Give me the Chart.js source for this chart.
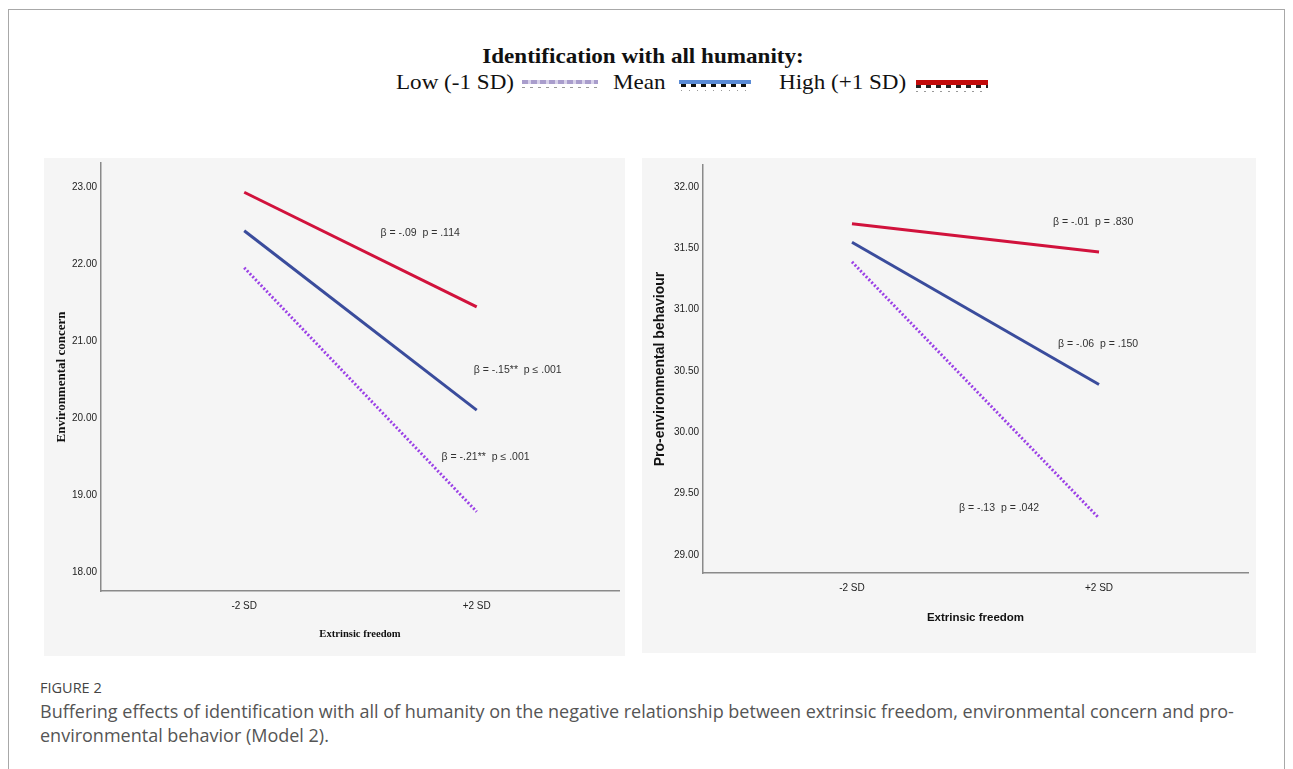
<!DOCTYPE html>
<html>
<head>
<meta charset="utf-8">
<script src="https://cdn.jsdelivr.net/npm/chart.js@4/dist/chart.umd.min.js"></script>
<style>
  html, body { margin:0; padding:0; background:#fff; }
  body { width:1293px; height:769px; position:relative; overflow:hidden; }
  #frame { position:absolute; left:8px; top:9px; width:1277px; height:800px; border:1px solid #a8a8a8; box-sizing:border-box; }
  .abs { position:absolute; white-space:nowrap; }
  #title { left:443px; width:400px; top:43px; text-align:center; font:bold 21px "Liberation Serif", "Times New Roman", serif; color:#111; line-height:26px; transform:scaleX(1.1); transform-origin:center; }
  .leg { top:69px; font:21px "Liberation Serif", "Times New Roman", serif; color:#111; line-height:26px; transform:scaleX(1.1); transform-origin:left center; }
  .sw { position:absolute; height:12px; }
  .panel { position:absolute; background:#f5f5f5; }
  #cap1 { left:40px; top:680px; font:14.5px "Open Sans", "Noto Sans", sans-serif; color:#444; line-height:16px; }
  #cap2 { left:40px; top:699px; font:18px "Open Sans", "Noto Sans", sans-serif; color:#555; line-height:24px; }
</style>
</head>
<body>
<div id="frame"></div>
<div id="title" class="abs">Identification with all humanity:</div>
<div class="abs leg" style="left:396px;">Low (-1 SD)</div>
<div class="sw" style="left:522px; top:79px; width:76px;">
  <div style="position:absolute; left:0; top:1px; width:76px; height:4px; background:repeating-linear-gradient(90deg,#a99dcc 0 6px,#d8d2ea 6px 9px);"></div>
  <div style="position:absolute; left:0; top:8px; width:76px; height:1px; background:repeating-linear-gradient(90deg,#999 0 3px,transparent 3px 8px);"></div>
</div>
<div class="abs leg" style="left:613px;">Mean</div>
<div class="sw" style="left:677px; top:79px; width:76px;">
  <div style="position:absolute; left:2px; top:1px; width:72px; height:4px; background:#5a8bd6;"></div>
  <div style="position:absolute; left:4px; top:5px; width:70px; height:3px; background:repeating-linear-gradient(90deg,#111 0 5px,transparent 5px 10px);"></div>
  <div style="position:absolute; left:4px; top:11px; width:70px; height:1px; background:repeating-linear-gradient(90deg,#999 0 1px,transparent 1px 8px);"></div>
</div>
<div class="abs leg" style="left:779px;">High (+1 SD)</div>
<div class="sw" style="left:913px; top:78px; width:76px;">
  <div style="position:absolute; left:3px; top:2px; width:72px; height:5px; background:#c20a0a;"></div>
  <div style="position:absolute; left:3px; top:7px; width:72px; height:3px; background:repeating-linear-gradient(90deg,#222 0 5px,transparent 5px 10px);"></div>
  <div style="position:absolute; left:3px; top:13px; width:72px; height:1px; background:repeating-linear-gradient(90deg,#999 0 2px,transparent 2px 8px);"></div>
</div>

<div class="panel" style="left:44px; top:158px; width:581px; height:498px;"><canvas id="c1" width="581" height="498"></canvas></div>
<div class="panel" style="left:642px; top:158px; width:614px; height:495px;"><canvas id="c2" width="614" height="495"></canvas></div>

<div id="cap1" class="abs">FIGURE 2</div>
<div id="cap2" class="abs">Buffering effects of identification with all of humanity on the negative relationship between extrinsic freedom, environmental concern and pro-<br>environmental behavior (Model 2).</div>

<script>
// ---- data ----
const xLabels = ['-2 SD', '+2 SD'];
const seriesNames = ['Low (-1 SD)', 'Mean', 'High (+1 SD)'];

const ecLow  = [21.95, 18.78];
const ecMean = [22.43, 20.10];
const ecHigh = [22.93, 21.44];
const ecTicks = [18, 19, 20, 21, 22, 23];

const pebLow  = [31.39, 29.30];
const pebMean = [31.55, 30.39];
const pebHigh = [31.70, 31.47];
const pebTicks = [29, 29.5, 30, 30.5, 31, 31.5, 32];

const ecNotes  = ['β = -.09  p = .114', 'β = -.15**  p ≤ .001', 'β = -.21**  p ≤ .001'];
const pebNotes = ['β = -.01  p = .830', 'β = -.06  p = .150', 'β = -.13  p = .042'];

// ---- styling / placement ----
const tickFont = { family: '"Liberation Sans", Arial, sans-serif', size: 10 };
const colors = { low: '#9b40e6', mean: '#3a4c9c', high: '#d1123c' };

function pts(arr) { return arr.map((v, i) => ({ x: i, y: v })); }

function makeDatasets(low, mean, high) {
  return [
    { label: seriesNames[0], data: pts(low),  borderColor: colors.low,  borderWidth: 3, borderDash: [2, 2], pointRadius: 0, fill: false },
    { label: seriesNames[1], data: pts(mean), borderColor: colors.mean, borderWidth: 3, pointRadius: 0, fill: false },
    { label: seriesNames[2], data: pts(high), borderColor: colors.high, borderWidth: 3, pointRadius: 0, fill: false }
  ];
}

const notesPlugin = {
  id: 'notes',
  afterDatasetsDraw(chart, args, opts) {
    const { ctx, scales } = chart;
    ctx.save();
    ctx.font = '10.5px "Liberation Sans", Arial, sans-serif';
    ctx.fillStyle = '#333';
    ctx.textAlign = 'left';
    ctx.textBaseline = 'middle';
    opts.items.forEach(it => {
      ctx.fillText(it.text, scales.x.getPixelForValue(it.x), scales.y.getPixelForValue(it.y));
    });
    ctx.restore();
  }
};

function makeChart(id, cfg) {
  return new Chart(document.getElementById(id), {
    type: 'line',
    data: { datasets: makeDatasets(cfg.low, cfg.mean, cfg.high) },
    plugins: [notesPlugin],
    options: {
      responsive: false,
      animation: false,
      layout: { padding: { left: 0, top: cfg.padTop, right: cfg.padRight, bottom: 0 } },
      plugins: { legend: { display: false }, tooltip: { enabled: false }, notes: { items: cfg.notes } },
      scales: {
        x: {
          type: 'linear', min: cfg.xmin, max: cfg.xmax,
          afterBuildTicks: s => { s.ticks = xLabels.map((_, i) => ({ value: i })); },
          afterFit: s => { s.height = cfg.xH; s.paddingLeft = 0; s.paddingRight = 0; },
          grid: { display: false, drawTicks: false },
          border: { display: true, color: '#8a8a8a', width: 1.5 },
          ticks: { font: tickFont, color: '#222', padding: 9.5, maxRotation: 0, callback: v => xLabels[v] },
          title: { display: true, text: 'Extrinsic freedom', font: cfg.xTitleFont, color: '#111', padding: { top: 0, bottom: cfg.xTitlePad } }
        },
        y: {
          min: cfg.ymin, max: cfg.ymax,
          afterBuildTicks: s => { s.ticks = cfg.ticks.map(v => ({ value: v })); },
          afterFit: s => { s.width = cfg.yW; s.paddingTop = 0; s.paddingBottom = 0; },
          grid: { display: false, drawTicks: false },
          border: { display: true, color: '#8a8a8a', width: 1.5 },
          ticks: { font: tickFont, color: '#222', padding: 4, callback: v => Number(v).toFixed(2) },
          title: { display: true, text: cfg.yTitle, font: cfg.yTitleFont, color: '#111', padding: { top: cfg.yTitlePad, bottom: 0 } }
        }
      }
    }
  });
}

makeChart('c1', {
  low: ecLow, mean: ecMean, high: ecHigh, ticks: ecTicks,
  ymin: 17.75, ymax: 23.31, xmin: -0.616, xmax: 1.612,
  padTop: 5, padRight: 6, xH: 65, yW: 57, xTitlePad: 15, yTitlePad: 10,
  yTitle: 'Environmental concern',
  yTitleFont: { family: '"Liberation Serif", "Times New Roman", serif', size: 13, weight: 'bold' },
  xTitleFont: { family: '"Liberation Serif", "Times New Roman", serif', size: 10.6, weight: 'bold' },
  notes: [
    { text: ecNotes[0], x: 0.586, y: 22.40 },
    { text: ecNotes[1], x: 0.987, y: 20.62 },
    { text: ecNotes[2], x: 0.849, y: 19.49 }
  ]
});

makeChart('c2', {
  low: pebLow, mean: pebMean, high: pebHigh, ticks: pebTicks,
  ymin: 28.853, ymax: 32.18, xmin: -0.603, xmax: 1.603,
  padTop: 7, padRight: 8, xH: 80, yW: 61, xTitlePad: 28, yTitlePad: 10,
  yTitle: 'Pro-environmental behaviour',
  yTitleFont: { family: '"Liberation Sans", Arial, sans-serif', size: 14, weight: 'bold' },
  xTitleFont: { family: '"Liberation Sans", Arial, sans-serif', size: 11.5, weight: 'bold' },
  notes: [
    { text: pebNotes[0], x: 0.814, y: 31.715 },
    { text: pebNotes[1], x: 0.834, y: 30.72 },
    { text: pebNotes[2], x: 0.433, y: 29.38 }
  ]
});
</script>
</body>
</html>
